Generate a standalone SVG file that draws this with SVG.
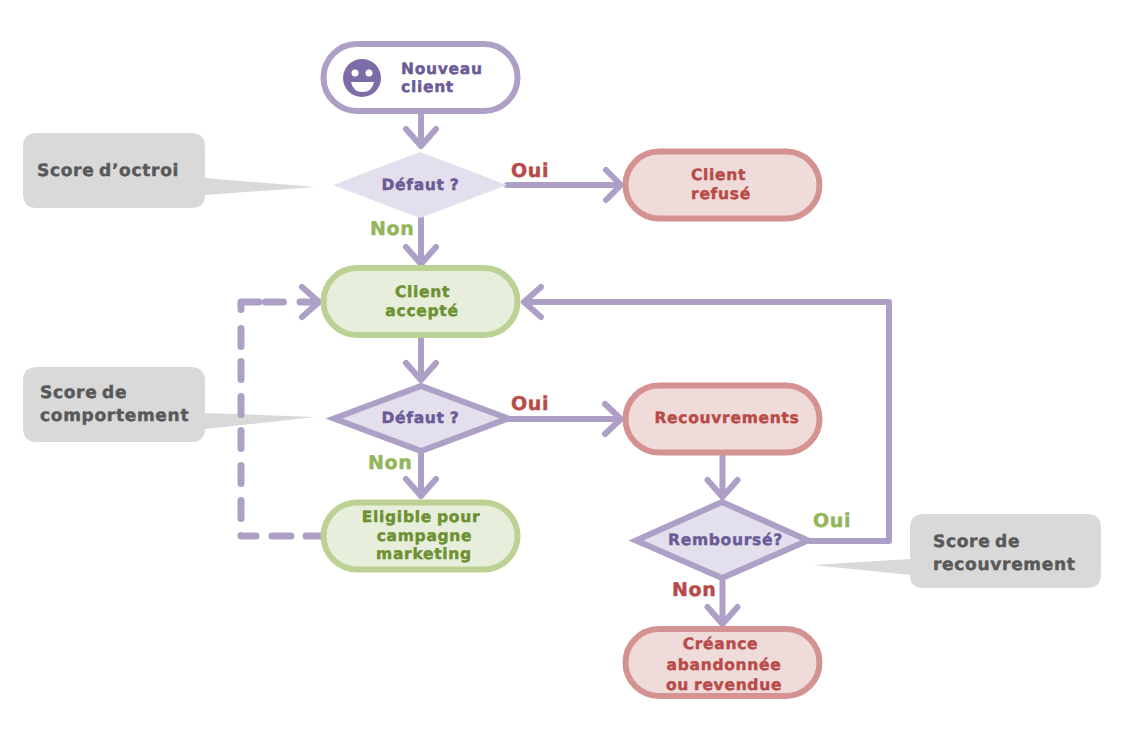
<svg xmlns="http://www.w3.org/2000/svg" width="1127" height="738" viewBox="0 0 1127 738">
<style>
text{font-family:"DejaVu Sans","Liberation Sans",sans-serif;font-weight:700;font-size:15.500px;letter-spacing:.7px;word-spacing:-1px;text-anchor:middle;stroke-width:.45px;text-rendering:geometricPrecision}
.pu{fill:#6a5a98;stroke:#6a5a98}.re{fill:#b84a47;stroke:#b84a47}.gr{fill:#6d9030;stroke:#6d9030}.gy{fill:#585858;stroke:#585858;text-anchor:start;font-size:17px;word-spacing:-2px}
.lr{fill:#b84a47;stroke:#b84a47;font-size:19px;text-anchor:start}.lg{fill:#93b55a;stroke:#93b55a;font-size:19px;text-anchor:start}
.st{text-anchor:start}
.n{stroke-width:6px}.nr{fill:#f0dbdb;stroke:#d59292}.ng{fill:#e8eedc;stroke:#bcd194}.dp{fill:#e4dfec}.ds{stroke:#ad9fc6}
.c{fill:none;stroke:#ad9fc6;stroke-width:6px;stroke-linecap:round;stroke-linejoin:round}
.co{fill:#d9d9d9}
</style>
<g id="callouts">
<g id="callout-octroi"><path class="co" d="M37 133H191Q205 133 205 147V178L315 187L205 195Q205 208 191 208H37Q23 208 23 194V147Q23 133 37 133Z"/><text class="gy" x="37" y="176">Score d’octroi</text></g>
<g id="callout-comportement"><path class="co" d="M37 367H191Q205 367 205 381V413L315 417L205 429Q205 442 191 442H37Q23 442 23 428V381Q23 367 37 367Z"/><text class="gy" x="40" y="398">Score de</text><text class="gy" x="40" y="421">comportement</text></g>
<g id="callout-recouvrement"><path class="co" d="M924 514H1087Q1101 514 1101 528V574Q1101 588 1087 588H924Q910 588 910 575L813 565L910 559V528Q910 514 924 514Z"/><text class="gy" x="933" y="547">Score de</text><text class="gy" x="933" y="570">recouvrement</text></g>
</g>
<g id="connectors">
<path class="c" d="M421 114V146M406 129L421 146L436 129"/>
<path class="c" d="M507 185H620M606 170L621 185L606 200"/>
<path class="c" d="M421 218V264M406 247L421 264L436 247"/>
<path class="c" d="M421 338V380M406 363L421 380L436 363"/>
<path class="c" d="M509 419H620M605 404L621 419L605 434"/>
<path class="c" d="M421 452V496M406 479L421 496L436 479"/>
<path class="c" d="M722.500 455V497M707.500 480L722.500 497L737.500 480"/>
<path class="c" d="M722.500 580V624M707.500 607L722.500 624L737.500 607"/>
<path class="c" d="M810 541H889V302H525M541 287L524 302L541 317"/>
<path class="c" style="stroke-width:7px" d="M320 536H306M291 536H272M256 536H241V535.500M241 518.500V500.500M241 483.500V465.500M241 448.500V430.500M241 414.500V396.500M241 379.500V361.500M241 346.500V328.500M241 309.500V302H259M265.500 302H283.500M300 302H318"/>
<path class="c" d="M302 287L319 302L302 317"/>
</g>
<g id="node-nouveau"><rect class="n" fill="#fff" stroke="#ad9fc6" x="323.500" y="44" width="194" height="67" rx="33.500"/><circle cx="362" cy="78" r="19" fill="#7d6ca8"/><circle cx="355" cy="73" r="3.500" fill="#fff"/><circle cx="369" cy="73" r="3.500" fill="#fff"/><path d="M351 82H374Q372 92 362.500 92Q353 92 351 82Z" fill="#fff"/><text class="pu st" x="401" y="73.500">Nouveau</text><text class="pu st" x="401" y="92">client</text></g>
<g id="node-defaut1"><path class="dp" d="M333 185L420 152L507 185L420 218Z"/><text class="pu" x="420.500" y="190">Défaut ?</text></g>
<g id="node-refuse"><rect class="n nr" x="625.500" y="151.500" width="194" height="67" rx="33.500"/><text class="re" x="718.500" y="180">Client</text><text class="re" x="721" y="199">refusé</text></g>
<g id="node-accepte"><rect class="n ng" x="323.500" y="268" width="194" height="67" rx="33.500"/><text class="gr" x="422.500" y="297">Client</text><text class="gr" x="422" y="316">accepté</text></g>
<g id="node-defaut2"><path class="dp ds n" d="M334 418.500L421 386L508 418.500L421 451Z"/><text class="pu" x="420.500" y="423">Défaut ?</text></g>
<g id="node-recouvrements"><rect class="n nr" x="625.500" y="385.500" width="194" height="67" rx="33.500"/><text class="re" x="727" y="423">Recouvrements</text></g>
<g id="node-eligible"><rect class="n ng" x="323.500" y="502.500" width="194" height="67" rx="33.500"/><text class="gr" x="421" y="522">Eligible pour</text><text class="gr" x="424.500" y="541">campagne</text><text class="gr" x="424" y="559">marketing</text></g>
<g id="node-rembourse"><path class="dp ds n" d="M636 540.500L722 502L808 540.500L722 578Z"/><text class="pu" x="725.500" y="545">Remboursé?</text></g>
<g id="node-creance"><rect class="n nr" x="625.500" y="629" width="194" height="67" rx="33.500"/><text class="re" x="720.500" y="649">Créance</text><text class="re" x="724" y="670">abandonnée</text><text class="re" x="724" y="690">ou revendue</text></g>
<g id="labels">
<text class="lr" x="511" y="177">Oui</text><text class="lg" x="370" y="235">Non</text>
<text class="lr" x="511" y="410">Oui</text><text class="lg" x="368" y="469">Non</text>
<text class="lg" x="813" y="527">Oui</text><text class="lr" x="672" y="596">Non</text>
</g>
</svg>
